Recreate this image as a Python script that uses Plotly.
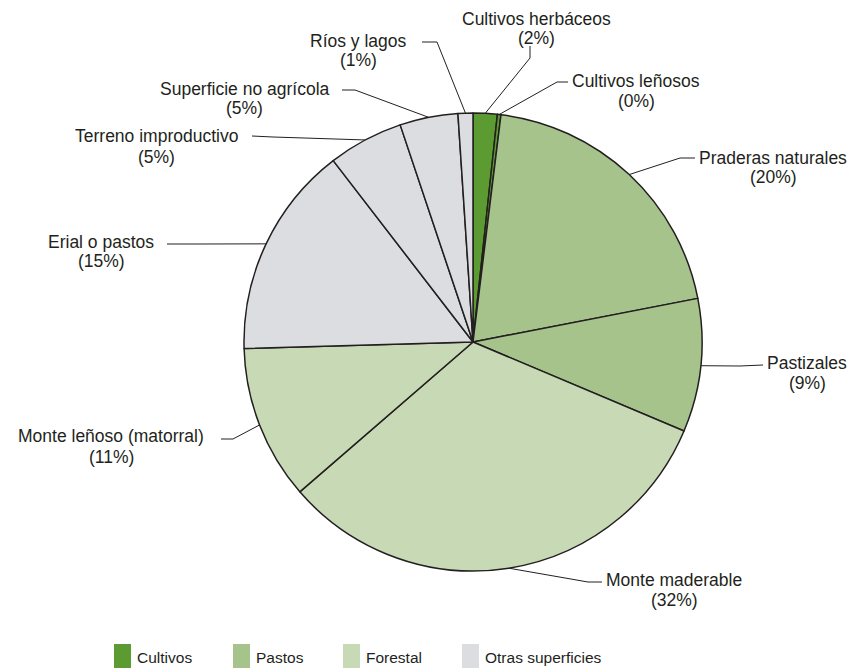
import math
import plotly.graph_objects as go

# ---------------- data ----------------
categories = ["Cultivos herbáceos", "Cultivos leñosos", "Praderas naturales", "Pastizales",
              "Monte maderable", "Monte leñoso (matorral)", "Erial o pastos",
              "Terreno improductivo", "Superficie no agrícola", "Ríos y lagos"]
values = [1.7, 0.25, 20.0, 9.4, 32.3, 10.9, 15.0, 5.3, 4.1, 1.05]
pct_labels = ["(2%)", "(0%)", "(20%)", "(9%)", "(32%)", "(11%)", "(15%)", "(5%)", "(5%)", "(1%)"]
groups = ["Cultivos", "Cultivos", "Pastos", "Pastos", "Forestal", "Forestal",
          "Otras superficies", "Otras superficies", "Otras superficies", "Otras superficies"]
group_names = ["Cultivos", "Pastos", "Forestal", "Otras superficies"]
group_colors = ["#5c9a32", "#a6c38b", "#c8dab5", "#dcdde0"]

# ---------------- layout config (pixels) ----------------
W, H = 850, 668
CX, CY, R = 473, 342, 229
TEXT = "#231f20"
FONT = "Liberation Sans"

# per slice: elbow point, end point of leader, text centre x, line1 y, line2 y
placement = [
    dict(elbow=(530, 58), end=(530, 46), tx=536, y1=19, y2=38),
    dict(elbow=(557, 82), end=(568, 82), tx=636, y1=81, y2=101.5),
    dict(elbow=(680, 158), end=(695, 158), tx=773, y1=158, y2=177),
    dict(elbow=(740, 366), end=(763, 365), tx=807, y1=362.5, y2=383),
    dict(elbow=(588, 582), end=(602, 582), tx=674, y1=580, y2=600),
    dict(elbow=(233, 439), end=(221, 439), tx=111, y1=436, y2=457),
    dict(elbow=(200, 244), end=(167, 244), tx=101, y1=242, y2=261),
    dict(elbow=(273, 137), end=(252, 136), tx=156, y1=136, y2=157),
    dict(elbow=(355, 90), end=(342, 90), tx=245, y1=88.5, y2=107.5),
    dict(elbow=(437, 42), end=(422, 42), tx=358, y1=41, y2=60),
]


def px(x):
    return x / W


def py(y):
    return 1 - y / H


color_of = dict(zip(group_names, group_colors))
slice_colors = [color_of[g] for g in groups]

fig = go.Figure()
fig.add_trace(go.Pie(
    labels=categories,
    values=values,
    sort=False,
    direction="clockwise",
    rotation=0,
    textinfo="none",
    hoverinfo="label+percent",
    marker=dict(colors=slice_colors, line=dict(color=TEXT, width=1.5)),
    domain=dict(x=[px(CX - R), px(CX + R)], y=[py(CY + R), py(CY - R)]),
    showlegend=False,
))

shapes = []
annotations = []
total = sum(values)
cum = 0.0
for i, v in enumerate(values):
    mid = (cum + v / 2) / total * 2 * math.pi
    cum += v
    sx = CX + R * math.sin(mid)
    sy = CY - R * math.cos(mid)
    p = placement[i]
    ex, ey = p["elbow"]
    nx, ny = p["end"]
    shapes.append(dict(
        type="path", xref="paper", yref="paper",
        path=f"M {px(sx)} {py(sy)} L {px(ex)} {py(ey)} L {px(nx)} {py(ny)}",
        line=dict(color=TEXT, width=1),
    ))
    annotations.append(dict(
        x=px(p["tx"]), y=py(p["y1"]), xref="paper", yref="paper",
        text=categories[i], showarrow=False, xanchor="center", yanchor="middle",
        font=dict(family=FONT, size=17.5, color=TEXT),
    ))
    annotations.append(dict(
        x=px(p["tx"]), y=py(p["y2"]), xref="paper", yref="paper",
        text=pct_labels[i], showarrow=False, xanchor="center", yanchor="middle",
        font=dict(family=FONT, size=17.5, color=TEXT),
    ))

# legend (manual)
legend_x = [114, 233, 343, 462]
for gx, name, col in zip(legend_x, group_names, group_colors):
    shapes.append(dict(
        type="rect", xref="paper", yref="paper",
        x0=px(gx), x1=px(gx + 17), y0=py(668), y1=py(644),
        fillcolor=col, line=dict(width=0),
    ))
    annotations.append(dict(
        x=px(gx + 21), y=py(657), xref="paper", yref="paper",
        text=name, showarrow=False, xanchor="left", yanchor="middle",
        font=dict(family=FONT, size=15.5, color=TEXT),
    ))

fig.update_layout(
    width=W, height=H,
    margin=dict(l=0, r=0, t=0, b=0),
    paper_bgcolor="white",
    plot_bgcolor="white",
    shapes=shapes,
    annotations=annotations,
)

fig.write_html("out.html", config={"displayModeBar": False},
               post_script="document.body.style.margin='0';")
